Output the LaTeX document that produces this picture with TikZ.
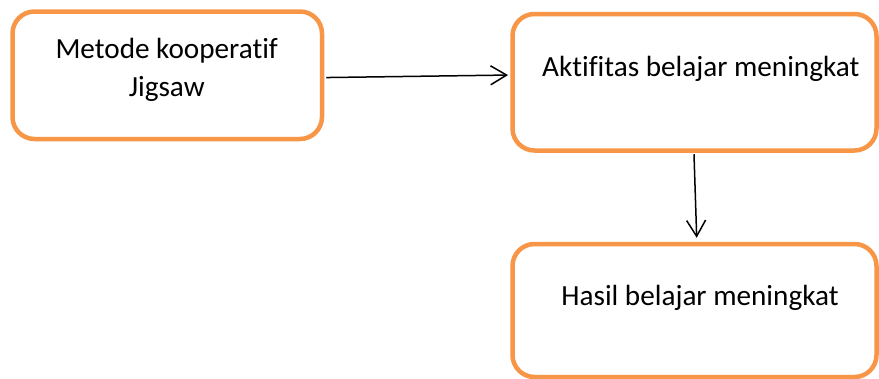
\documentclass[tikz,border=0pt]{standalone}
\usepackage{fontspec}
\setmainfont{Carlito}[Ligatures=NoCommon]
\usetikzlibrary{arrows.meta}
\definecolor{boxorange}{HTML}{F79646}
\tikzset{
  flowbox/.style={draw=boxorange, line width=4.5pt, rounded corners=22pt, fill=white, inner sep=0pt},
  lbl/.style={font=\fontsize{29.2pt}{38.4pt}\selectfont, inner sep=0pt, anchor=base, align=center},
  conn/.style={line width=1.5pt, -{Straight Barb[length=16pt,width=19pt,line width=1.5pt]}}
}
\begin{document}
\begin{tikzpicture}[x=1pt,y=-1pt]
\useasboundingbox (0,0) rectangle (879,378);
\node[flowbox, minimum width=309.5pt, minimum height=127.5pt] (b1) at (167.25,75.25) {};
\node[flowbox, minimum width=364pt, minimum height=136.5pt] (b2) at (694.5,82.25) {};
\node[flowbox, minimum width=364pt, minimum height=133pt] (b3) at (694.5,310.5) {};
\node[lbl] (t1) at (166.7,96.7) {Metode kooperatif\\Jigsaw};
\node[lbl] (t2) at (700.8,76) {Aktifitas belajar meningkat};
\node[lbl] (t3) at (700,305) {Hasil belajar meningkat};
\draw[conn] ([xshift=2pt,yshift=-2.3pt]b1.east) -- ([xshift=-2.2pt,yshift=7.2pt]b2.west);
\draw[conn] ([xshift=-0.5pt,yshift=-1.5pt]b2.south) -- ([xshift=2.2pt,yshift=4pt]b3.north);
\end{tikzpicture}
\end{document}
